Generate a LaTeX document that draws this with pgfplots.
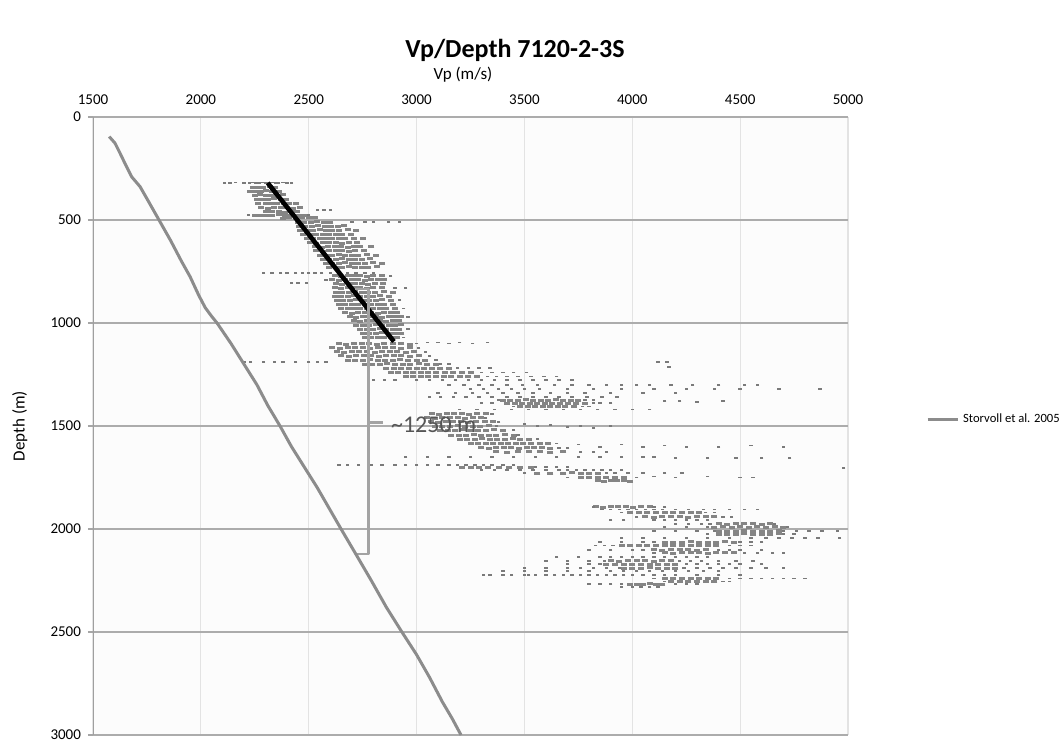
\documentclass[border=0pt]{standalone}
\usepackage{fontspec}
\setmainfont{Carlito}
\usepackage{pgfplots}
\pgfplotsset{compat=1.18}
\definecolor{curvegray}{HTML}{8C8C8C}
\definecolor{dotgray}{HTML}{7A7A7A}
\definecolor{densegray}{HTML}{858585}
\definecolor{bracketgray}{HTML}{A3A3A3}
\definecolor{textgray}{HTML}{555555}

\begin{document}
\begin{tikzpicture}
\useasboundingbox (-46.5pt,-3.5pt) rectangle (485pt,367.5pt);
\begin{axis}[
  at={(0,0)}, anchor=south west,
  scale only axis, width=377.5pt, height=309pt,
  xmin=1500, xmax=5000, ymin=0, ymax=3000,
  y dir=reverse,
  clip marker paths=true,
  xtick={1500,2000,...,5000}, ytick={0,500,...,3000},
  xticklabel pos=upper,
  xtick style={draw=none},
  ytick pos=left, tick align=outside, major tick length=2.5pt,
  ytick style={gray!70, line width=0.6pt},
  axis line style={draw=none},
  xmajorgrids, ymajorgrids,
  x grid style={black!11, line width=0.6pt},
  y grid style={gray!65, line width=0.7pt},
  axis background/.style={fill=black!1},
  /pgf/number format/.cd, 1000 sep={}, assume math mode=true,
  /pgfplots/.cd,
  ticklabel style={font=\fontsize{7.5}{9}\selectfont},
  xlabel={Vp (m/s)}, ylabel={Depth (m)},
  label style={font=\fontsize{8.5}{10}\selectfont},
  xlabel style={at={(axis description cs:0.49,1.068)}, anchor=center},
  ylabel style={at={(axis description cs:-0.097,0.5)}, anchor=center},
  title={Vp/Depth 7120-2-3S},
  title style={at={(axis description cs:0.559,1.089)}, anchor=center, font=\bfseries\fontsize{13}{15}\selectfont},
  legend style={at={(axis description cs:1.103,0.51)}, anchor=west, draw=none, fill=none,
    font=\fontsize{6.3}{7.5}\selectfont, inner sep=0pt},
  legend image code/.code={\draw[#1] (0pt,0pt) -- (15pt,0pt);},
  legend cell align=left,
]
% log data points, dense cores
\addplot[only marks, mark=-, mark size=1.5pt, densegray, mark options={line width=1.5pt}, forget plot] coordinates {
(2240,340)(2265,342)(2290,340)(2320,338)(2345,340)
(2230,360)(2255,362)(2280,360)(2300,358)(2330,360)(2360,362)
(2250,380)(2275,378)(2300,380)(2330,382)(2355,380)(2380,378)
(2260,400)(2290,402)(2310,400)(2340,398)(2370,400)(2395,402)
(2265,420)(2300,418)(2330,420)(2355,422)(2385,420)(2410,418)(2440,420)
(2280,440)(2310,442)(2340,440)(2370,438)(2400,440)(2425,442)(2460,440)
(2300,460)(2330,458)(2360,460)(2390,462)(2420,460)(2445,458)
(2250,476)(2275,476)(2300,478)(2330,476)(2360,474)(2390,476)(2420,478)(2450,476)(2480,476)
(2380,492)(2410,490)(2440,492)(2470,490)(2500,488)(2530,490)
(2450,510)(2480,512)(2510,510)(2540,508)(2570,510)(2600,512)
(2455,530)(2485,532)(2515,530)(2545,528)(2575,530)(2605,532)(2635,530)(2665,528)
(2460,550)(2490,552)(2520,550)(2550,548)(2580,550)(2610,552)(2640,550)(2680,548)(2720,550)
(2475,570)(2505,572)(2535,570)(2565,568)(2595,570)(2625,572)(2655,570)(2695,568)
(2490,590)(2520,592)(2550,590)(2580,588)(2610,590)(2640,592)(2670,590)(2710,588)(2750,590)
(2505,610)(2535,612)(2565,610)(2595,608)(2625,610)(2655,612)(2685,610)(2725,608)
(2530,630)(2560,632)(2590,630)(2620,628)(2650,630)(2680,632)(2710,630)(2740,628)(2790,630)
(2535,650)(2565,652)(2595,650)(2625,648)(2655,650)(2685,652)(2715,650)(2755,648)
(2550,670)(2580,672)(2610,670)(2640,668)(2670,670)(2700,672)(2730,670)(2770,668)(2810,670)
(2565,690)(2595,692)(2625,690)(2655,688)(2685,690)(2715,692)(2745,690)(2785,688)
(2580,710)(2610,712)(2640,710)(2670,708)(2700,710)(2730,712)(2760,710)(2800,708)(2840,710)
(2595,730)(2625,732)(2655,730)(2685,728)(2715,730)(2745,732)(2775,730)(2815,728)
(2620,770)(2650,772)(2680,770)(2710,768)(2740,770)(2770,772)(2800,770)(2840,768)
(2610,790)(2640,792)(2670,790)(2700,788)(2730,790)(2760,792)(2790,790)(2820,788)(2850,790)
(2625,810)(2655,812)(2685,810)(2715,808)(2745,810)(2775,812)(2805,810)(2845,808)
(2620,830)(2650,832)(2680,830)(2710,828)(2740,830)(2770,832)(2800,830)(2840,828)
(2625,850)(2655,852)(2685,850)(2715,848)(2745,850)(2775,852)(2805,850)(2850,848)(2890,850)
(2620,870)(2650,872)(2680,870)(2710,868)(2740,870)(2770,872)(2800,870)(2830,868)(2870,870)
(2630,890)(2660,892)(2690,890)(2720,888)(2750,890)(2780,892)(2810,890)(2840,888)(2880,890)
(2640,910)(2670,912)(2700,910)(2730,908)(2760,910)(2790,912)(2820,910)(2850,908)(2890,910)
(2650,930)(2680,932)(2710,930)(2740,928)(2770,930)(2800,932)(2830,930)(2860,928)(2900,930)
(2670,950)(2700,952)(2730,950)(2760,948)(2790,950)(2820,952)(2850,950)(2880,948)(2910,950)
(2690,970)(2720,972)(2750,970)(2780,968)(2810,970)(2840,972)(2870,970)(2900,968)(2930,970)
(2710,990)(2740,992)(2770,990)(2800,988)(2830,990)(2860,992)(2890,990)(2920,988)
(2720,1010)(2750,1012)(2780,1010)(2810,1008)(2840,1010)(2870,1012)(2900,1010)(2930,1008)
(2740,1030)(2770,1032)(2800,1030)(2830,1028)(2860,1030)(2890,1032)(2920,1030)
(2750,1050)(2780,1052)(2810,1050)(2840,1048)(2870,1050)(2900,1052)(2930,1050)
(2760,1070)(2790,1072)(2820,1070)(2850,1068)(2880,1070)(2910,1072)
(2640,1100)(2675,1102)(2710,1100)(2745,1098)(2780,1100)(2815,1102)(2850,1100)(2890,1098)(2930,1100)(2970,1102)
(2610,1120)(2645,1122)(2680,1120)(2715,1118)(2750,1120)(2785,1122)(2820,1120)(2855,1118)(2890,1120)(2930,1122)(2970,1120)
(2630,1140)(2665,1142)(2700,1140)(2735,1138)(2770,1140)(2805,1142)(2840,1140)(2875,1138)(2910,1140)(2950,1142)(2990,1140)
(2650,1160)(2685,1162)(2720,1160)(2755,1158)(2790,1160)(2825,1162)(2860,1160)(2895,1158)(2930,1160)(2970,1162)(3010,1160)
(2680,1180)(2715,1182)(2750,1180)(2785,1178)(2820,1180)(2855,1182)(2890,1180)(2925,1178)(2960,1180)(3000,1182)(3040,1180)
(2760,1200)(2795,1202)(2830,1200)(2865,1198)(2900,1200)(2935,1202)(2970,1200)(3010,1198)(3050,1200)(3090,1202)
(2860,1222)(2895,1220)(2930,1222)(2965,1220)(3000,1222)(3035,1220)(3070,1222)(3110,1220)(3150,1222)
(2880,1242)(2915,1240)(2950,1242)(2985,1240)(3020,1242)(3055,1240)(3090,1242)(3130,1240)(3170,1242)(3210,1240)(3250,1242)
(2950,1262)(2985,1260)(3020,1262)(3055,1260)(3090,1262)(3125,1260)(3160,1262)(3200,1260)(3240,1262)(3280,1260)
(3400,1375)(3435,1377)(3470,1375)(3505,1373)(3540,1375)(3575,1377)(3610,1375)(3645,1373)(3680,1375)(3715,1377)(3750,1375)
(3420,1392)(3455,1390)(3490,1392)(3525,1390)(3560,1392)(3595,1390)(3630,1392)(3665,1390)(3700,1392)(3740,1390)(3780,1392)
(3480,1407)(3515,1405)(3550,1407)(3585,1405)(3620,1407)(3655,1405)(3690,1407)(3730,1405)
(3070,1440)(3105,1442)(3140,1440)(3175,1438)(3210,1440)(3245,1442)(3280,1440)(3320,1438)
(3050,1460)(3085,1462)(3120,1460)(3155,1458)(3190,1460)(3225,1462)(3260,1460)(3300,1458)
(3065,1480)(3100,1482)(3135,1480)(3170,1478)(3205,1480)(3240,1482)(3275,1480)(3315,1478)(3355,1480)
(3085,1500)(3120,1502)(3155,1500)(3190,1498)(3225,1500)(3260,1502)(3295,1500)(3335,1498)
(3110,1520)(3145,1522)(3180,1520)(3215,1518)(3250,1520)(3285,1522)(3320,1520)(3360,1518)(3400,1520)
(3160,1545)(3195,1547)(3230,1545)(3265,1543)(3300,1545)(3335,1547)(3370,1545)(3410,1543)(3450,1545)
(3200,1565)(3235,1567)(3270,1565)(3305,1563)(3340,1565)(3375,1567)(3410,1565)(3445,1563)(3480,1565)(3520,1567)
(3250,1585)(3285,1587)(3320,1585)(3355,1583)(3390,1585)(3425,1587)(3460,1585)(3495,1583)(3530,1585)(3570,1587)(3610,1585)
(3300,1605)(3335,1607)(3370,1605)(3405,1603)(3440,1605)(3475,1607)(3510,1605)(3545,1603)(3580,1605)(3620,1607)
(3370,1625)(3420,1627)(3470,1625)(3520,1623)(3570,1625)(3620,1627)(3680,1625)
(3210,1702)(3250,1700)(3290,1702)(3330,1700)(3380,1702)(3430,1700)(3480,1702)(3530,1700)
(3560,1730)(3620,1732)(3680,1730)(3720,1728)(3760,1730)(3800,1732)(3840,1730)
(3760,1750)(3800,1752)(3840,1750)(3880,1748)(3920,1750)(3960,1752)
(3840,1765)(3870,1767)(3900,1765)(3930,1763)(3960,1765)(3990,1767)
(3830,1893)(3865,1895)(3900,1893)(3935,1891)(3970,1893)(4005,1895)(4040,1893)(4080,1891)
(3990,1920)(4030,1922)(4070,1920)(4110,1918)(4150,1920)(4190,1922)(4230,1920)(4270,1918)(4310,1920)
(4060,1940)(4100,1942)(4140,1940)(4180,1938)(4220,1940)(4260,1942)(4300,1940)(4340,1938)(4380,1940)
(4400,1975)(4440,1977)(4480,1975)(4520,1973)(4560,1975)(4600,1977)(4640,1975)
(4380,1992)(4420,1990)(4460,1992)(4500,1990)(4540,1992)(4580,1990)(4620,1992)(4660,1990)(4700,1992)
(4400,2010)(4440,2012)(4480,2010)(4520,2008)(4560,2010)(4600,2012)(4640,2010)(4680,2008)
(4400,2025)(4440,2027)(4480,2025)(4520,2023)(4560,2025)(4600,2027)(4640,2025)(4680,2023)
(4150,2065)(4190,2067)(4230,2065)(4270,2063)(4310,2065)(4350,2067)(4390,2065)(4430,2063)(4470,2065)
(3950,2080)(3990,2082)(4030,2080)(4070,2078)(4110,2080)(4150,2082)(4190,2080)(4230,2078)(4270,2080)(4310,2082)(4350,2080)(4390,2078)
(4100,2100)(4140,2102)(4180,2100)(4220,2098)(4260,2100)(4300,2102)(4340,2100)
(4150,2115)(4190,2117)(4230,2115)(4270,2113)(4310,2115)(4350,2117)(4390,2115)(4430,2113)(4470,2115)
(3900,2155)(3940,2157)(3980,2155)(4020,2153)(4060,2155)(4100,2157)(4140,2155)(4180,2153)
(3880,2172)(3920,2170)(3960,2172)(4000,2170)(4040,2172)(4080,2170)(4120,2172)(4160,2170)(4200,2172)
(3960,2190)(4000,2192)(4040,2190)(4080,2188)(4120,2190)(4160,2192)(4200,2190)
(4150,2240)(4190,2242)(4230,2240)(4270,2238)(4310,2240)(4350,2242)(4390,2240)
(4180,2255)(4220,2257)(4260,2255)(4300,2253)(4340,2255)(4380,2257)
(3990,2268)(4020,2270)(4050,2268)(4080,2266)(4110,2268)(4140,2270)
};
% log data points, scattered
\addplot[only marks, mark=-, mark size=0.85pt, dotgray, mark options={line width=0.9pt}, forget plot] coordinates {
(2110,320)(2135,320)(2160,318)(2200,320)(2225,322)(2240,318)(2255,320)(2270,322)(2285,318)(2300,320)(2315,322)(2330,318)(2345,320)(2360,320)(2380,318)(2400,320)(2420,320)
(2540,450)(2570,450)(2600,450)(2220,476)(2500,476)
(2700,510)(2760,510)(2800,510)(2870,510)(2920,510)
(2290,756)(2330,756)(2370,756)(2400,756)(2440,756)(2470,756)(2500,756)(2530,756)(2560,756)(2600,756)(2640,756)(2680,756)(2720,756)(2760,756)(2800,756)
(2880,770)(2900,830)(2950,830)(2920,890)(2940,930)(2960,970)(2960,1030)(2940,1070)
(2420,805)(2450,805)(2490,805)(2580,790)
(3000,1100)(3050,1095)(3100,1095)(3150,1100)(3200,1095)(3260,1100)(3330,1095)(3010,1120)(3040,1140)(3060,1160)(3090,1180)
(2200,1188)(2230,1188)(2290,1188)(2340,1188)(2380,1188)(2440,1188)(2500,1188)(2540,1188)(2580,1188)
(4120,1190)(4160,1190)(4170,1215)(3110,1200)(3150,1200)
(3190,1220)(3240,1220)(3290,1220)(3340,1220)
(3300,1240)(3350,1240)(3400,1240)(3450,1240)(3510,1240)
(3330,1260)(3370,1260)(3420,1260)(3470,1260)(3530,1260)(3590,1260)(3650,1260)
(2800,1275)(2850,1275)(2900,1275)(3000,1275)(3060,1275)(3120,1275)(3180,1275)(3240,1275)(3300,1275)(3360,1275)(3420,1275)(3480,1275)(3540,1275)(3600,1275)(3660,1275)(3720,1275)
(3150,1300)(3220,1300)(3290,1300)(3350,1300)(3420,1300)(3490,1300)(3560,1300)(3640,1300)(3720,1300)(3800,1300)(3880,1300)(3950,1300)(4020,1300)(4080,1300)(4180,1300)(4280,1300)(4400,1300)(4520,1300)(4580,1300)
(3250,1320)(3310,1320)(3380,1320)(3440,1320)(3500,1320)(3570,1320)(3700,1320)(3820,1320)(3950,1320)(4100,1320)(4250,1320)(4380,1320)(4500,1320)(4680,1320)(4870,1320)
(3100,1340)(3180,1340)(3260,1340)(3330,1340)(3400,1340)(3470,1340)(3540,1340)(3620,1340)(3700,1340)(3780,1340)(3900,1340)(4050,1340)(4200,1340)
(3060,1360)(3110,1360)(3170,1360)(3230,1360)(3290,1360)(3350,1360)(3420,1360)(3480,1360)(3540,1360)(3600,1360)(3660,1360)(3720,1360)(3790,1360)(3860,1360)(3930,1360)
(3380,1375)(3780,1375)(3820,1375)(4150,1380)(4220,1380)(4300,1385)(4420,1380)
(3300,1390)(3350,1390)(3820,1390)(3850,1390)(3900,1390)(3450,1405)(3770,1405)(3800,1405)
(3200,1420)(3280,1420)(3360,1420)(3440,1420)(3520,1420)(3600,1420)(3680,1420)(3760,1420)(3840,1420)(3920,1420)(4000,1420)(4080,1420)
(3350,1440)(3040,1460)(3320,1460)(3380,1480)(3370,1500)(3450,1520)
(3500,1490)(3560,1500)(3620,1495)(3700,1505)(3760,1500)(3820,1510)(3900,1500)
(3470,1545)(3560,1565)(3650,1585)(3660,1605)(3700,1605)
(3750,1590)(3850,1600)(3950,1590)(4050,1600)(4150,1595)(4250,1600)(4400,1600)(4550,1595)(4700,1600)
(3760,1625)(3820,1625)(3880,1625)
(2950,1650)(3050,1650)(3150,1650)(3250,1650)(3350,1650)(3450,1650)(3550,1650)(3650,1650)(3750,1650)(3850,1650)(3950,1650)(4050,1650)(4100,1650)
(4200,1656)(4350,1656)(4480,1656)(4600,1656)(4730,1656)(4980,1704)
(2640,1690)(2680,1690)(2730,1690)(2790,1690)(2840,1690)(2900,1690)(2950,1690)(3000,1690)(3050,1690)(3100,1690)(3150,1690)(3190,1690)(3230,1690)(3270,1690)(3310,1690)(3350,1690)(3400,1690)(3450,1690)
(3550,1700)(3600,1700)(3650,1700)(3700,1700)
(3300,1715)(3360,1715)(3420,1715)(3480,1715)(3540,1715)(3600,1715)(3660,1715)(3700,1715)(3740,1715)(3780,1715)(3820,1715)(3860,1715)(3900,1715)(3950,1715)
(3500,1730)(3880,1730)(3920,1730)(3980,1730)(4050,1730)(4150,1730)(4230,1730)
(3700,1750)(4020,1750)(4100,1745)(4200,1750)(4350,1745)(4500,1750)(4560,1750)
(3820,1893)(4100,1893)(4150,1893)
(3860,1905)(3900,1905)(3940,1905)(3980,1905)(4020,1905)(4060,1905)(4100,1905)(4140,1905)(4200,1905)(4260,1905)(4330,1905)(4380,1905)(4450,1905)(4520,1905)(4580,1905)
(3950,1920)(4340,1920)(4380,1920)(4020,1940)(4420,1940)(4460,1940)
(3900,1955)(3960,1955)(4100,1955)(4150,1955)(4200,1955)(4250,1955)(4300,1955)(4350,1955)
(4200,1975)(4260,1975)(4320,1975)(4360,1975)(4660,1975)
(4150,1990)(4250,1990)(4350,1990)(4720,1990)
(4100,2010)(4200,2010)(4300,2010)(4380,2010)(4700,2010)(4760,2010)(4820,2010)(4880,2010)(4950,2010)
(4350,2025)(4700,2025)(4750,2025)
(3950,2045)(4050,2045)(4150,2045)(4250,2045)(4350,2045)(4450,2045)(4550,2045)(4620,2045)(4680,2045)(4740,2045)(4800,2045)(4860,2045)(4960,2045)
(3850,2065)(3950,2065)(4050,2065)(4100,2065)(4500,2065)(4550,2065)(4600,2065)
(3830,2080)(3870,2080)(3910,2080)(4450,2080)(4500,2080)(4550,2080)
(3800,2100)(3900,2100)(4000,2100)(4050,2100)(4400,2100)(4450,2100)(4500,2100)(4600,2100)
(4100,2115)(4520,2115)(4580,2115)(4650,2115)(4700,2115)
(3650,2135)(3750,2135)(3850,2135)(3900,2135)(3950,2135)(4000,2135)(4050,2135)(4100,2135)(4150,2135)(4200,2135)(4250,2135)(4300,2135)(4350,2135)
(3600,2155)(3700,2155)(3800,2155)(3870,2155)(4220,2155)(4270,2155)(4320,2155)(4400,2155)(4480,2155)(4560,2155)
(3700,2170)(3800,2170)(3850,2170)(4250,2170)(4300,2170)(4350,2170)(4400,2170)(4450,2170)(4500,2170)(4600,2170)
(3500,2190)(3600,2190)(3700,2190)(3760,2190)(3820,2190)(3880,2190)(3940,2190)(4240,2190)(4300,2190)(4360,2190)(4420,2190)(4480,2190)(4550,2190)(4620,2190)(4700,2190)
(3400,2205)(3500,2205)(3600,2205)(3700,2205)(3800,2205)(3900,2205)(3960,2205)(4020,2205)(4080,2205)(4140,2205)(4200,2205)(4260,2205)(4330,2205)(4400,2205)
(3310,2222)(3340,2222)(3400,2222)(3440,2222)(3500,2222)(3520,2222)(3550,2222)(3600,2222)(3640,2222)(3680,2222)(3720,2222)(3760,2222)(3800,2222)(3840,2222)(3880,2222)(3920,2222)(3960,2222)(4000,2222)(4050,2222)(4100,2222)(4150,2222)(4200,2222)(4300,2222)(4400,2222)(4500,2222)
(4100,2240)(4450,2240)(4500,2240)(4550,2240)(4600,2240)(4650,2240)(4700,2240)(4750,2240)(4800,2240)
(4150,2255)(4420,2255)(4450,2255)
(3800,2268)(3850,2268)(3900,2268)(3950,2268)(4200,2268)(4250,2268)(4300,2268)
(3950,2280)(4000,2280)(4040,2280)(4080,2280)(4120,2280)
};
% trend line
\addplot[black, line width=2.3pt, forget plot] coordinates {(2310,320)(2895,1090)};
% bracket
\addplot[bracketgray, line width=1.4pt, line join=round, forget plot] coordinates {(2715,835)(2776,835)(2776,2121)(2715,2121)};
\addplot[bracketgray, line width=1.4pt, forget plot] coordinates {(2776,1484)(2845,1484)};
% reference curve
\addplot[curvegray, line width=1.5pt] coordinates {
(1575,95)(1602,127)(1625,175)(1648,225)(1679,290)(1718,338)(1760,415)(1806,500)(1860,600)(1910,700)(1950,775)(1990,865)(2020,925)(2048,965)(2075,1000)
(2140,1100)(2200,1200)(2260,1300)(2310,1400)(2367,1500)(2420,1600)(2480,1700)(2540,1800)(2595,1900)(2650,2000)(2718,2121)
(2790,2250)(2860,2380)(2932,2500)(3000,2610)(3060,2720)(3120,2840)(3165,2920)(3206,3000)};
\addlegendentry{Storvoll et al. 2005}
\draw[gray!75, line width=0.8pt] (rel axis cs:0,0) -- (rel axis cs:0,1);
\node[anchor=west, inner sep=0pt, text=textgray, font=\fontsize{12}{14}\selectfont] at (axis cs:2880,1495) {\textasciitilde 1250 m};
\end{axis}
\end{tikzpicture}
\end{document}
